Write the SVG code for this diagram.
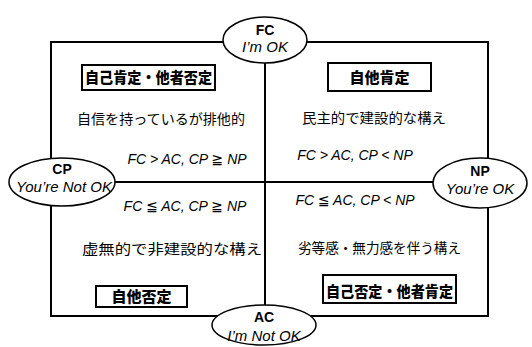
<svg xmlns="http://www.w3.org/2000/svg" width="532" height="347" viewBox="0 0 532 347">
<style>
.ln{fill:none;stroke:#000;stroke-width:2}
.el{fill:#fff;stroke:#000;stroke-width:1.5}
.bx{fill:#fff;stroke:#000;stroke-width:2}
.lb{font-family:"Noto Sans CJK JP",sans-serif;font-weight:900;font-size:15px;text-anchor:middle;fill:#000}
.tx{font-family:"Noto Sans CJK JP",sans-serif;font-size:14px;text-anchor:middle;fill:#000}
.fm{font-family:"Liberation Sans","DejaVu Sans",sans-serif;font-style:italic;font-size:14px;text-anchor:middle;fill:#000}
.nb{font-family:"Liberation Sans",sans-serif;font-weight:bold;font-size:14px;text-anchor:middle;fill:#000}
.ni{font-family:"Liberation Sans",sans-serif;font-style:italic;font-size:15px;text-anchor:middle;fill:#000}
</style>
<rect width="532" height="347" fill="#fff"/>
<g id="connectors">
<rect class="ln" x="51" y="42" width="437" height="274"/>
<line class="ln" x1="265" y1="42" x2="265" y2="316"/>
<line class="ln" x1="51" y1="182" x2="488" y2="182"/>
</g>
<g id="q1">
<rect class="bx" x="82" y="65" width="133" height="25"/>
<text class="lb" x="148.5" y="83" textLength="127" lengthAdjust="spacingAndGlyphs">自己肯定・他者否定</text>
<text class="tx" x="161" y="124" textLength="168" lengthAdjust="spacingAndGlyphs">自信を持っているが排他的</text>
<text class="fm" x="187" y="164">FC &gt; AC, CP ≧ NP</text>
</g>
<g id="q2">
<rect class="bx" x="328" y="63" width="103" height="28"/>
<text class="lb" x="379.5" y="83">自他肯定</text>
<text class="tx" x="374" y="123" textLength="144" lengthAdjust="spacingAndGlyphs">民主的で建設的な構え</text>
<text class="fm" x="355" y="160">FC &gt; AC, CP &lt; NP</text>
</g>
<g id="q3">
<text class="fm" x="185" y="211">FC ≦ AC, CP ≧ NP</text>
<text class="tx" x="172" y="254" textLength="180" lengthAdjust="spacingAndGlyphs">虚無的で非建設的な構え</text>
<rect class="bx" x="96" y="286" width="91" height="21"/>
<text class="lb" x="141.5" y="302">自他否定</text>
</g>
<g id="q4">
<text class="fm" x="355" y="205">FC ≦ AC, CP &lt; NP</text>
<text class="tx" x="379.5" y="253" textLength="163" lengthAdjust="spacingAndGlyphs">劣等感・無力感を伴う構え</text>
<rect class="bx" x="323" y="275" width="133" height="28"/>
<text class="lb" x="389.5" y="297" textLength="127" lengthAdjust="spacingAndGlyphs">自己否定・他者肯定</text>
</g>
<g id="FC">
<ellipse class="el" cx="265" cy="40" rx="42" ry="23"/>
<text class="nb" x="265" y="35">FC</text>
<text class="ni" x="265" y="52">I’m OK</text>
</g>
<g id="CP">
<ellipse class="el" cx="62" cy="182" rx="53" ry="24"/>
<text class="nb" x="62" y="174">CP</text>
<text class="ni" x="64" y="192">You’re Not OK</text>
</g>
<g id="NP">
<ellipse class="el" cx="480" cy="183" rx="47" ry="25"/>
<text class="nb" x="480" y="176">NP</text>
<text class="ni" x="480" y="194">You’re OK</text>
</g>
<g id="AC">
<ellipse class="el" cx="264" cy="325" rx="52" ry="20"/>
<text class="nb" x="264" y="322">AC</text>
<text class="ni" x="264" y="341">I’m Not OK</text>
</g>
</svg>
